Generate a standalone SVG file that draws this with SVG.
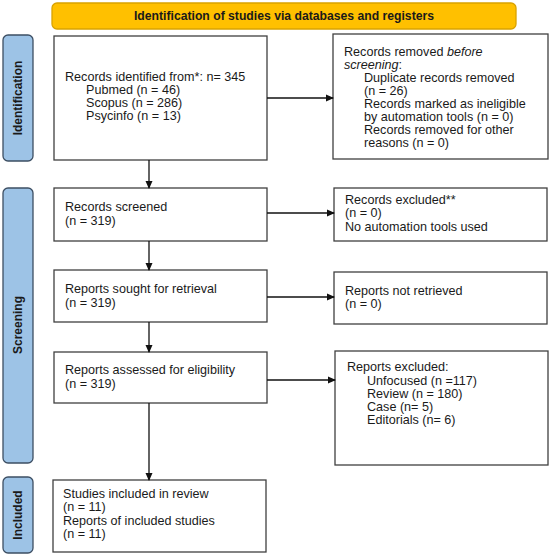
<svg xmlns="http://www.w3.org/2000/svg" width="550" height="557" viewBox="0 0 550 557">
<defs>
<marker id="ah" markerWidth="8" markerHeight="8" refX="7" refY="4" orient="auto" markerUnits="userSpaceOnUse">
<path d="M0,0.5 L8,4 L0,7.5 Z" fill="#111"/>
</marker>
<style>
text{font-family:"Liberation Sans",Arial,sans-serif;font-size:12.6px;fill:#1a1a1a}
.box{fill:#fff;stroke:#404040;stroke-width:1.3}
.side{fill:#9DC3E6;stroke:#3d4f63;stroke-width:1.3}
.sl{font-weight:bold;font-size:12px;text-anchor:middle}
.hd{fill:#FFC000;stroke:#D9A200;stroke-width:1.3}
.hdt{font-weight:bold;font-size:12.2px;text-anchor:middle}
.c{stroke:#111;stroke-width:1.3;fill:none;marker-end:url(#ah)}
</style>
</defs>
<rect width="550" height="557" fill="#fff"/>
<g id="header">
<rect class="hd" x="52" y="3" width="464" height="26" rx="5"/>
<text class="hdt" x="284" y="20">Identification of studies via databases and registers</text>
</g>
<g id="side-identification">
<rect class="side" x="3" y="35" width="30" height="126" rx="5"/>
<text class="sl" transform="translate(22,98) rotate(-90)">Identification</text>
</g>
<g id="side-screening">
<rect class="side" x="3" y="188" width="30" height="275" rx="5"/>
<text class="sl" transform="translate(22,325) rotate(-90)">Screening</text>
</g>
<g id="side-included">
<rect class="side" x="3" y="477" width="30" height="76" rx="5"/>
<text class="sl" transform="translate(22,515) rotate(-90)">Included</text>
</g>
<g id="records-identified">
<rect class="box" x="54" y="36" width="213" height="124"/>
<text x="65" y="81">Records identified from*: n= 345</text>
<text x="86" y="94">Pubmed (n = 46)</text>
<text x="86" y="107">Scopus (n = 286)</text>
<text x="86" y="120">Psycinfo (n = 13)</text>
</g>
<g id="records-removed">
<rect class="box" x="333" y="34" width="215" height="125"/>
<text x="344" y="56">Records removed <tspan font-style="italic">before</tspan></text>
<text x="344" y="69"><tspan font-style="italic">screening</tspan>:</text>
<text x="364" y="82">Duplicate records removed</text>
<text x="364" y="95">(n = 26)</text>
<text x="364" y="108">Records marked as ineligible</text>
<text x="364" y="121">by automation tools (n = 0)</text>
<text x="364" y="134">Records removed for other</text>
<text x="364" y="147">reasons (n = 0)</text>
</g>
<g id="records-screened">
<rect class="box" x="54" y="188" width="213" height="53"/>
<text x="65" y="211">Records screened</text>
<text x="65" y="225">(n = 319)</text>
</g>
<g id="records-excluded">
<rect class="box" x="334" y="188" width="213" height="53"/>
<text x="345" y="204">Records excluded**</text>
<text x="345" y="217">(n = 0)</text>
<text x="345" y="231">No automation tools used</text>
</g>
<g id="reports-sought">
<rect class="box" x="54" y="270" width="213" height="52"/>
<text x="65" y="293">Reports sought for retrieval</text>
<text x="65" y="307">(n = 319)</text>
</g>
<g id="reports-not-retrieved">
<rect class="box" x="334" y="272" width="213" height="52"/>
<text x="345" y="295">Reports not retrieved</text>
<text x="345" y="308">(n = 0)</text>
</g>
<g id="reports-assessed">
<rect class="box" x="54" y="352" width="213" height="51"/>
<text x="65" y="374">Reports assessed for eligibility</text>
<text x="65" y="388">(n = 319)</text>
</g>
<g id="reports-excluded">
<rect class="box" x="335" y="351" width="213" height="114"/>
<text x="347" y="371">Reports excluded:</text>
<text x="367" y="385">Unfocused (n =117)</text>
<text x="367" y="398">Review (n = 180)</text>
<text x="367" y="411">Case (n= 5)</text>
<text x="367" y="424">Editorials (n= 6)</text>
</g>
<g id="studies-included">
<rect class="box" x="53" y="480" width="213" height="72"/>
<text x="63" y="498">Studies included in review</text>
<text x="63" y="511">(n = 11)</text>
<text x="63" y="525">Reports of included studies</text>
<text x="63" y="538">(n = 11)</text>
</g>
<g id="connectors">
<line class="c" x1="267" y1="98" x2="333" y2="98"/>
<line class="c" x1="149" y1="160" x2="149" y2="188"/>
<line class="c" x1="267" y1="213" x2="334" y2="213"/>
<line class="c" x1="149" y1="241" x2="149" y2="270"/>
<line class="c" x1="267" y1="297" x2="334" y2="297"/>
<line class="c" x1="149" y1="322" x2="149" y2="352"/>
<line class="c" x1="267" y1="380" x2="335" y2="380"/>
<line class="c" x1="149" y1="403" x2="149" y2="480"/>
</g>
</svg>
